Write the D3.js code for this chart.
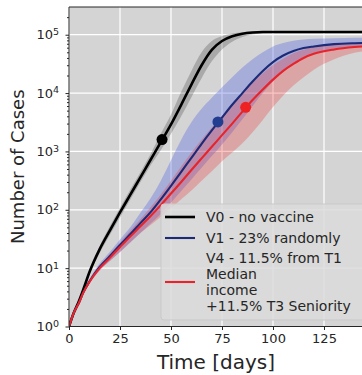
<html>
<head>
<script src="https://cdn.jsdelivr.net/npm/d3@7"></script>
<style>
  body { margin: 0; background: #fff; }
  text { font-family: "DejaVu Sans", sans-serif; fill: #262626; }
</style>
</head>
<body>
<svg id="chart" width="362" height="375"></svg>
<script>
// days of the simulation
var days = [0,2,5,7,10,15,20,25,30,35,40,45,50,55,60,65,70,75,80,85,90,95,100,105,110,115,120,130,140,150];

// V0 - no vaccine
var v0Mid = [1,1.6,2.8,4.3,8.5,21,44,90,180,360,720,1440,2900,6300,14000,30000,55000,78000,94000,104000,109000,111000,111000,111000,111000,111000,111000,111000,111000,111000];
var v0Hi  = [1,1.6,2.9,4.6,9.5,24,52,108,220,440,900,2000,4300,10500,24000,50000,78000,95000,105000,110000,113000,113000,113000,113000,113000,113000,113000,113000,113000,113000];
var v0Lo  = [1,1.6,2.7,4.1,7.8,18,37,74,148,295,580,1050,2000,4000,8500,18000,35000,56000,76000,91000,101000,106000,108500,110000,110000,110000,110000,110000,110000,110000];

// V1 - 23% randomly
var v1Mid = [1,1.6,2.6,3.8,5.9,10.5,16,25,38,59,91,151,257,447,776,1350,2290,3800,6300,10000,15800,24000,34000,44000,52500,59000,63000,69000,71500,72500];
var v1Hi  = [1,1.6,2.7,4.0,6.5,12,19,31,50,89,158,316,708,1585,3160,5370,8300,12600,18600,27500,38000,50000,63000,72000,79000,83000,85000,87000,89000,89000];
var v1Lo  = [1,1.6,2.6,3.7,5.4,9.1,13.2,19,27.5,40,58,85,132,209,331,525,832,1320,2140,3550,6030,10000,15800,23400,31600,40000,46800,56200,61700,63100];

// V4 - 11.5% from T1 median income +11.5% T3 seniority
var v4Mid = [1,1.6,2.6,3.8,5.8,10,15,23,35,52,78,120,190,300,480,760,1200,1900,3000,4800,7600,11500,17000,24000,31600,40000,47000,56000,61500,64500];
var v4Hi  = [1,1.6,2.7,3.9,6.2,11,17.4,27.5,43.7,69,110,182,316,550,955,1585,2570,4070,6460,10000,15100,21900,30200,38900,47900,55000,61700,67600,70800,72400];
var v4Lo  = [1,1.6,2.6,3.7,5.4,9.1,13.2,19,27.5,40,55,76,107,151,214,316,457,676,955,1380,2140,3470,5750,9120,13500,18600,25100,38000,49000,53700];

// markers
var dotDays   = [45.6, 73, 86.6];
var dotValues = [1600, 3200, 5700];

var xTicks = [0,25,50,75,100,125];
var yTicks = [1,10,100,1000,10000,100000];
var legendLabels = ["V0 - no vaccine", "V1 - 23% randomly",
  ["V4 - 11.5% from T1", "Median", "income", "+11.5% T3 Seniority"]];

var colors = ["#000000", "#1c2a78", "#e8232a"];
var bandColors = ["rgba(0,0,0,0.2)", "rgba(80,100,225,0.35)", "rgba(240,40,40,0.27)"];
var dotColors = ["#000000", "#233e90", "#ee2222"];

(function () {
var svg = d3.select("#chart");
var left = 69, mTop = 7, bottom = 326.5;

var x = d3.scaleLinear().domain([0, 150]).range([left, left + 150 * 2.04]);
var y = d3.scaleLog().domain([1, Math.pow(10, 5.475)]).range([bottom, mTop]);

svg.append("defs").append("clipPath").attr("id", "clip")
  .append("rect").attr("x", left).attr("y", mTop).attr("width", 400).attr("height", bottom - mTop);

svg.append("rect").attr("x", left).attr("y", mTop).attr("width", 400).attr("height", bottom - mTop)
  .attr("fill", "#d4d4d4");

// grid
var g = svg.append("g");
g.selectAll(".gx").data(xTicks).enter().append("line")
  .attr("x1", d => x(d)).attr("x2", d => x(d)).attr("y1", mTop).attr("y2", bottom)
  .attr("stroke", "#fff").attr("stroke-width", 1.2);
g.selectAll(".gy").data(yTicks).enter().append("line")
  .attr("y1", d => y(d)).attr("y2", d => y(d)).attr("x1", left).attr("x2", 400)
  .attr("stroke", "#fff").attr("stroke-width", 1.2);

var series = [
  {mid: v0Mid, lo: v0Lo, hi: v0Hi},
  {mid: v1Mid, lo: v1Lo, hi: v1Hi},
  {mid: v4Mid, lo: v4Lo, hi: v4Hi}
];

var plot = svg.append("g").attr("clip-path", "url(#clip)");

var line = d3.line().curve(d3.curveMonotoneX)
  .x((d, i) => x(days[i])).y(d => y(d));

series.forEach(function (s, k) {
  var area = d3.area().curve(d3.curveMonotoneX)
    .x(i => x(days[i])).y0(i => y(s.lo[i])).y1(i => y(s.hi[i]));
  plot.append("path")
    .datum(days.map((d, i) => i))
    .attr("d", area)
    .attr("fill", bandColors[k]);
});
series.forEach(function (s, k) {
  plot.append("path").datum(s.mid)
    .attr("d", line)
    .attr("fill", "none")
    .attr("stroke", colors[k])
    .attr("stroke-width", k == 0 ? 2.6 : 2.1);
});

plot.selectAll(".dot").data(dotDays).enter().append("circle")
  .attr("cx", d => x(d))
  .attr("cy", (d, i) => y(dotValues[i]))
  .attr("r", 5.5)
  .attr("fill", (d, i) => dotColors[i]);

// axes
var xAxis = d3.axisBottom(x).tickValues(xTicks).tickSize(3.5).tickPadding(4);
var xa = svg.append("g").attr("transform", "translate(0," + bottom + ")").call(xAxis);
xa.select(".domain").remove();
xa.append("line").attr("x1", left).attr("x2", 400).attr("stroke", "#262626").attr("stroke-width", 1);
xa.selectAll(".tick line").attr("stroke", "#262626");
xa.selectAll(".tick text").attr("font-size", 13).attr("fill", "#262626");

var minor = [];
for (var e = 0; e < 6; e++) for (var m = 2; m < 10; m++) {
  var v = m * Math.pow(10, e);
  if (y(v) >= mTop) minor.push(v);
}
var ya = svg.append("g").attr("transform", "translate(" + left + ",0)");
ya.call(d3.axisLeft(y).tickValues(minor).tickSize(2).tickFormat(""));
ya.select(".domain").remove();
var yMaj = ya.append("g").call(d3.axisLeft(y).tickValues(yTicks).tickSize(3.5).tickPadding(4).tickFormat(""));
yMaj.select(".domain").remove();
ya.selectAll(".tick line").attr("stroke", "#262626");
ya.append("line").attr("y1", mTop).attr("y2", bottom).attr("stroke", "#262626");
svg.append("line").attr("x1", left).attr("x2", 400).attr("y1", mTop).attr("y2", mTop).attr("stroke", "#262626");

yMaj.selectAll(".tick").each(function (d) {
  var t = d3.select(this).append("text").attr("x", -10).attr("dy", "0.32em")
    .attr("text-anchor", "end").attr("font-size", 13).attr("fill", "#262626");
  t.append("tspan").text("10");
  t.append("tspan").attr("dy", "-0.45em").attr("font-size", 9.5).text(Math.round(Math.log10(d)));
});

// axis labels
svg.append("text").attr("x", 216).attr("y", 369).attr("text-anchor", "middle")
  .attr("font-size", 20).text("Time [days]");
svg.append("text").attr("transform", "translate(24," + ((mTop + bottom) / 2) + ") rotate(-90)")
  .attr("text-anchor", "middle").attr("font-size", 18).text("Number of Cases");

// legend
var lg = svg.append("g");
lg.append("rect").attr("x", 161).attr("y", 204).attr("width", 220).attr("height", 116).attr("rx", 3)
  .attr("fill", "rgba(218,218,218,0.85)").attr("stroke", "#c9c9c9");
var lineY = [217, 238, 282];
var textY = [[217], [238], [258, 274, 290, 306]];
legendLabels.forEach(function (lab, i) {
  lg.append("line").attr("x1", 165).attr("x2", 195).attr("y1", lineY[i]).attr("y2", lineY[i])
    .attr("stroke", colors[i]).attr("stroke-width", i == 0 ? 2.6 : 2.1);
  var arr = Array.isArray(lab) ? lab : [lab];
  arr.forEach(function (s, j) {
    lg.append("text").attr("x", 206).attr("y", textY[i][j]).attr("dy", "0.35em")
      .attr("font-size", 14).text(s);
  });
});
})();
</script>
</body>
</html>
